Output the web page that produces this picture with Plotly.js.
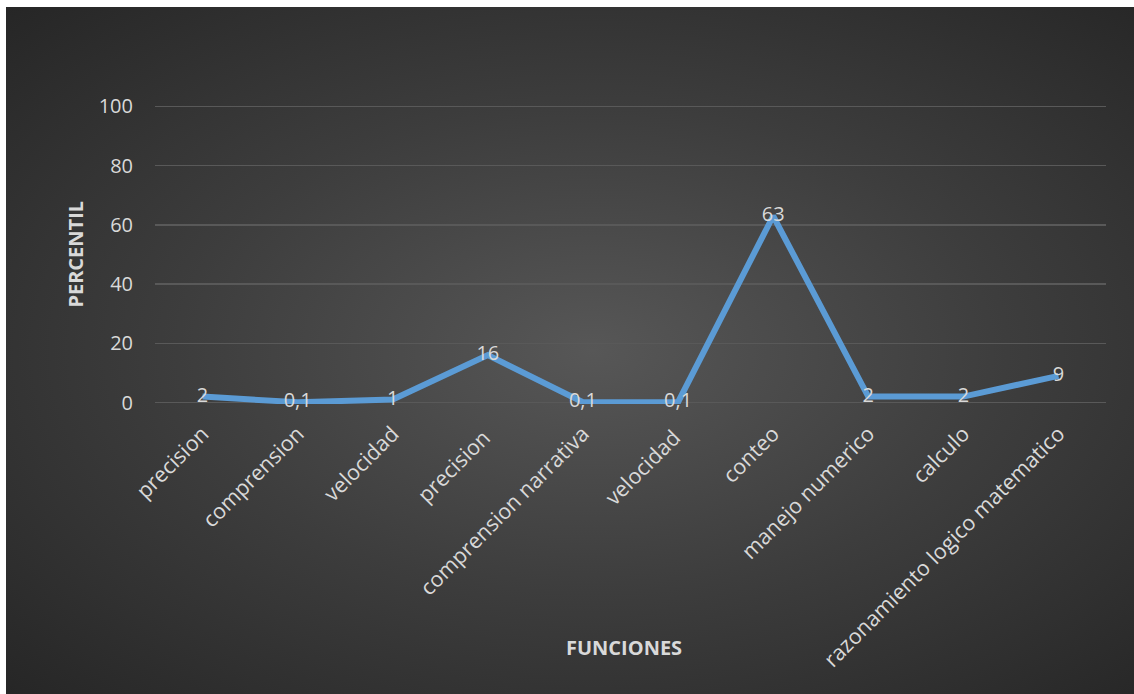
<!DOCTYPE html>
<html>
<head>
<meta charset="utf-8">
<script src="https://cdn.plot.ly/plotly-3.0.1.min.js"></script>
<style>
  html, body { margin: 0; padding: 0; background: #ffffff; width: 1134px; height: 694px; overflow: hidden; }
  #bg { position: absolute; left: 6px; top: 7px; width: 1128px; height: 687px;
        background: radial-gradient(ellipse farthest-corner at 52% 50%, #575757 0%, #3d3d3d 50%, #262626 100%); }
  #chart { position: absolute; left: 0; top: 0; width: 1134px; height: 694px; }
</style>
</head>
<body>
<div id="bg"></div>
<div id="chart"></div>
<script>
const categories = ["precision", "comprension", "velocidad", "precision ", "comprension narrativa", "velocidad ", "conteo", "manejo numerico", "calculo", "razonamiento logico matematico"];
const values = [2, 0.1, 1, 16, 0.1, 0.1, 63, 2, 2, 9];
const labels = values.map(v => String(v).replace('.', ','));
const yTicks = [0, 20, 40, 60, 80, 100];

const fontFam = "'Open Sans', sans-serif";
const txtColor = "#d9d9d9";

const trace = {
  type: "scatter",
  mode: "lines+text",
  x: categories,
  y: values,
  text: labels,
  textposition: "middle center",
  textfont: { family: fontFam, size: 20, color: txtColor },
  line: { color: "#5b9bd5", width: 6 },
  cliponaxis: false,
  hoverinfo: "skip"
};

const layout = {
  width: 1134, height: 694,
  margin: { l: 155, r: 28, t: 104.5, b: 289.5 },
  paper_bgcolor: "rgba(0,0,0,0)",
  plot_bgcolor: "rgba(0,0,0,0)",
  showlegend: false,
  font: { family: fontFam, color: txtColor, size: 20 },
  xaxis: {
    type: "category",
    range: [-0.5, 9.5],
    tickangle: -45,
    showgrid: false,
    zeroline: false,
    showline: false,
    ticks: "",
    ticklabelstandoff: 12,
    tickfont: { family: fontFam, size: 21.5, color: txtColor },
    fixedrange: true
  },
  yaxis: {
    range: [-0.5, 100.5],
    tickvals: yTicks,
    ticktext: yTicks.map(String),
    showgrid: true,
    gridcolor: "#595959",
    gridwidth: 1.3,
    zeroline: false,
    showline: false,
    ticks: "",
    ticklabelstandoff: 21,
    tickfont: { family: fontFam, size: 20, color: txtColor },
    fixedrange: true
  },
  annotations: [
    { text: "<b>PERCENTIL</b>", xref: "paper", yref: "paper", x: -0.084, y: 0.5,
      xanchor: "center", yanchor: "middle", textangle: -90, showarrow: false,
      font: { family: fontFam, size: 20, color: txtColor } },
    { text: "<b>FUNCIONES</b>", xref: "paper", yref: "paper", x: 0.493, y: -0.815,
      xanchor: "center", yanchor: "middle", showarrow: false,
      font: { family: fontFam, size: 20, color: txtColor } }
  ]
};

Plotly.newPlot("chart", [trace], layout, { displayModeBar: false, staticPlot: true });
</script>
</body>
</html>
